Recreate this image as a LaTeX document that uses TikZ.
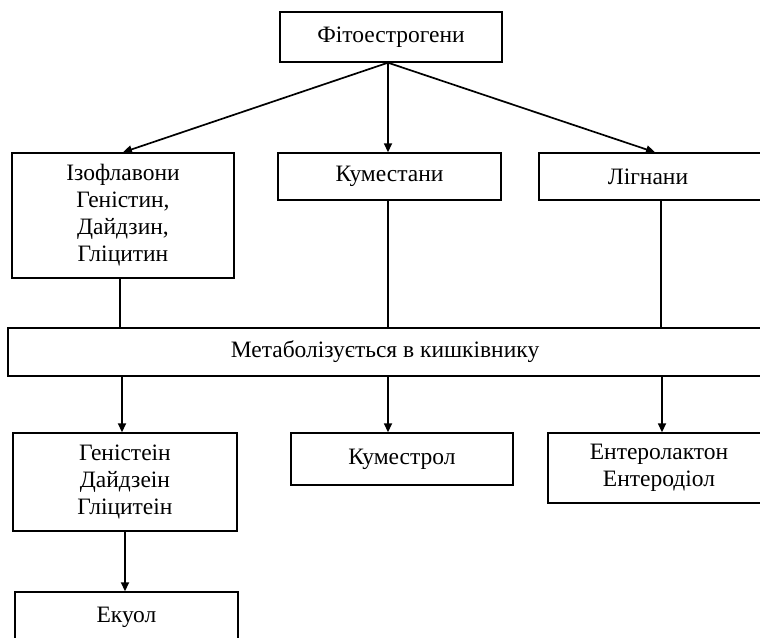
\documentclass[tikz,border=0pt]{standalone}
\usepackage{fontspec}
\setmainfont{Liberation Serif}
\usetikzlibrary{arrows.meta}
\begin{document}
\begin{tikzpicture}[x=1pt,y=-1pt,
  box/.style={draw, line width=1.4pt, inner sep=0pt, align=center, font=\fontsize{23.5}{27}\selectfont},
  conn/.style={line width=1.7pt},
  arr/.style={conn, -{Triangle[length=9pt,width=8pt]}}]
\useasboundingbox (0,0) rectangle (760,637);
\clip (0,0) rectangle (760,637);
\node[box, minimum width=222pt, minimum height=50pt] (top) at (391,37) {Фітоестрогени};
\node[box, minimum width=222pt, minimum height=125pt] (iso) at (123,215.5) {Ізофлавони\\Геністин,\\Дайдзин,\\Гліцитин};
\node[box, minimum width=223pt, minimum height=47pt] (kum) at (389.5,176.5) {Куместани};
\node[box, minimum width=240pt, minimum height=47pt] (lign) at (659,176.5) {Лігнани\hspace*{22pt}};
\node[box, minimum width=762pt, minimum height=48pt] (meta) at (389,352) {Метаболізується в кишківнику\hspace*{8pt}};
\node[box, minimum width=224pt, minimum height=98pt] (gen) at (125,482) {Геністеін\\Дайдзеін\\Гліцитеін};
\node[box, minimum width=222pt, minimum height=52pt] (kmr) at (402,459) {Куместрол};
\node[box, minimum width=222pt, minimum height=70pt] (ent) at (659,468) {Ентеролактон\\Ентеродіол};
\node[box, minimum width=223pt, minimum height=50pt] (eku) at (126.5,617) {Екуол};
\coordinate (hub) at ([xshift=-3pt]top.south);
\draw[arr] (hub) -- (iso.north);
\draw[arr] (hub) -- (hub |- kum.north);
\draw[arr] (hub) -- ([xshift=-4pt]lign.north);
\draw[conn] ([xshift=-3pt]iso.south) -- ([xshift=-3pt]iso.south |- meta.north);
\draw[conn] (hub |- kum.south) -- (hub |- meta.north);
\draw[conn] ([xshift=2pt]lign.south) -- ([xshift=2pt]lign.south |- meta.north);
\draw[arr] ([xshift=-3pt]gen.north |- meta.south) -- ([xshift=-3pt]gen.north);
\draw[arr] (hub |- meta.south) -- (hub |- kmr.north);
\draw[arr] ([xshift=3pt]ent.north |- meta.south) -- ([xshift=3pt]ent.north);
\draw[arr] (gen.south) -- (gen.south |- eku.north);
\end{tikzpicture}
\end{document}
